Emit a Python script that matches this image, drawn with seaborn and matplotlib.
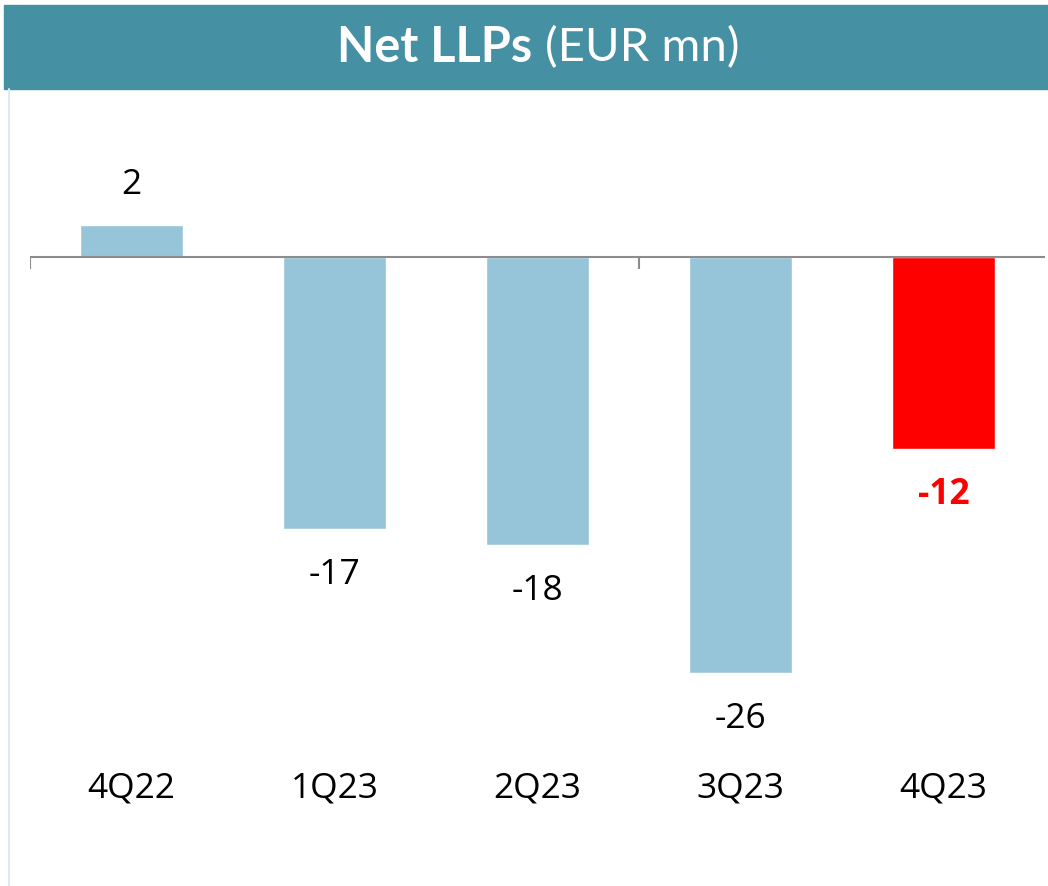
import matplotlib
matplotlib.use("Agg")
import matplotlib.pyplot as plt
import seaborn as sns
from matplotlib.patches import Rectangle
from matplotlib.lines import Line2D

quarters = ["4Q22", "1Q23", "2Q23", "3Q23", "4Q23"]
net_llps = [2, -17, -18, -26, -12]
bar_colors = ["#96C5D9", "#96C5D9", "#96C5D9", "#96C5D9", "#FF0000"]
label_colors = ["black", "black", "black", "black", "#FF0000"]
label_weights = ["normal", "normal", "normal", "normal", "bold"]

sns.set_theme(style="white")
plt.rcParams["font.family"] = ["Open Sans", "DejaVu Sans"]

W, H = 1048, 886
fig = plt.figure(figsize=(W / 100, H / 100), dpi=100)

# header band + thin left border
fig.patches.append(Rectangle((4 / W, 1 - 89 / H), 1 - 4 / W, 84 / H,
                             transform=fig.transFigure, color="#4690A3", zorder=0))
fig.lines.append(Line2D([8.5 / W, 8.5 / W], [0, 1 - 89 / H], transform=fig.transFigure,
                        color="#DDE9F0", linewidth=1.5))
fig.text(532 / W, 1 - 48 / H, "Net LLPs", ha="right", va="center",
         color="white", fontsize=35, fontweight="bold", family="Lato")
fig.text(545 / W, 1 - 48 / H, "(EUR mn)", ha="left", va="center",
         color="white", fontsize=34, family="Lato")

ax = fig.add_axes([30 / W, (H - 755) / H, 1015 / W, 655 / H])
sns.barplot(x=quarters, y=net_llps, hue=quarters, palette=bar_colors, legend=False,
            width=0.51, saturation=1, ax=ax)

ax.set_xlim(-0.5, 4.5)
ax.set_ylim(-31.1, 9.8)
for s in ax.spines.values():
    s.set_visible(False)
ax.axhline(0, color="#8C8C8C", linewidth=1.5, zorder=3)
ax.vlines([-0.5, 2.5], -0.75, 0, color="#8C8C8C", linewidth=1.5, zorder=3)
ax.set_yticks([])
ax.tick_params(axis="x", length=0, labelsize=25.5, pad=12, labelcolor="black")
ax.set_xlabel("")
ax.set_ylabel("")

for i, v in enumerate(net_llps):
    off = 29 if v > 0 else -33
    ax.annotate(f"{v}", (i, v), xytext=(0, off), textcoords="offset points",
                ha="center", va="center", fontsize=25.5, color=label_colors[i],
                fontweight=label_weights[i])

fig.savefig("out.png", dpi=100)
